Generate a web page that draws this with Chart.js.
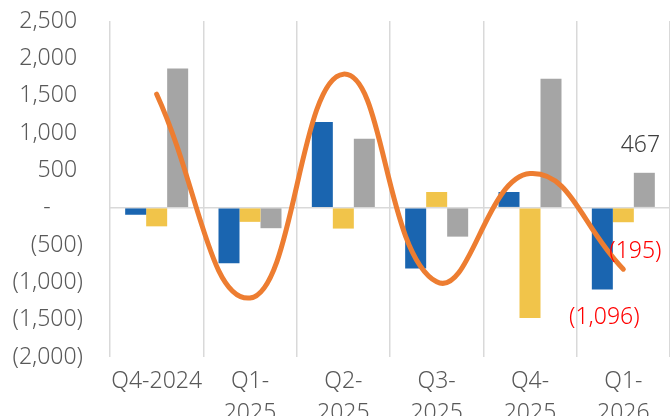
<!DOCTYPE html>
<html>
<head>
<meta charset="utf-8">
<script src="https://cdn.jsdelivr.net/npm/chart.js@4/dist/chart.umd.min.js"></script>
<style>
html,body{margin:0;padding:0;background:#fff;}
#wrap{width:670px;height:416px;position:relative;}
</style>
</head>
<body>
<div id="wrap"><canvas id="c"></canvas></div>
<script>
const categories = ['Q4-2024', ['Q1-', '2025'], ['Q2-', '2025'], ['Q3-', '2025'], ['Q4-', '2025'], ['Q1-', '2026']];
const seriesBlue = [-95, -745, 1146, -815, 210, -1096];
const seriesYellow = [-250, -190, -280, 210, -1479, -195];
const seriesGray = [1865, -275, 922, -388, 1725, 467];
const seriesTotal = [1520, -1210, 1788, -993, 456, -824];
const yMin = -2000, yMax = 2500, yStep = 500;

function fmt(v) {
  if (v === 0) return '-\u2007\u2007 ';
  const s = Math.abs(v).toLocaleString('en-US');
  return v < 0 ? '(' + s + ')' : s + ' ';
}

const FONT = '"Noto Sans", "DejaVu Sans", sans-serif';

const labelPlugin = {
  id: 'lastLabels',
  afterDatasetsDraw(chart) {
    const ctx = chart.ctx;
    const last = categories.length - 1;
    ctx.save();
    ctx.font = '300 23px ' + FONT;
    ctx.textAlign = 'center';
    ctx.textBaseline = 'middle';
    const g = chart.getDatasetMeta(2).data[last];
    ctx.fillStyle = '#404040';
    ctx.fillText(fmt(seriesGray[last]).trim(), g.x - 4, g.y - 27);
    const yv = chart.getDatasetMeta(1).data[last];
    ctx.fillStyle = '#FF0000';
    ctx.fillText(fmt(seriesYellow[last]), yv.x + 12, yv.y + 29);
    const b = chart.getDatasetMeta(0).data[last];
    ctx.fillText(fmt(seriesBlue[last]), b.x + 2, b.y + 28);
    ctx.restore();
  }
};

new Chart(document.getElementById('c'), {
  type: 'bar',
  data: {
    labels: categories,
    datasets: [
      { type: 'bar', data: seriesBlue, backgroundColor: '#1A65B0', order: 1, barPercentage: 1, categoryPercentage: 0.675 },
      { type: 'bar', data: seriesYellow, backgroundColor: '#F1C44A', order: 1, barPercentage: 1, categoryPercentage: 0.675 },
      { type: 'bar', data: seriesGray, backgroundColor: '#A5A5A5', order: 1, barPercentage: 1, categoryPercentage: 0.675 },
      { type: 'line', data: seriesTotal, borderColor: '#ED7D31', borderWidth: 5, tension: 0.45,
        pointRadius: 0, pointHoverRadius: 0, borderCapStyle: 'round', borderJoinStyle: 'round', fill: false, order: 0 }
    ]
  },
  options: {
    responsive: true,
    maintainAspectRatio: false,
    animation: false,
    events: [],
    layout: { padding: { top: 21, right: 0, left: 0, bottom: 0 } },
    plugins: { legend: { display: false }, tooltip: { enabled: false } },
    scales: {
      x: {
        offset: true,
        grid: { offset: true, color: '#D9D9D9', lineWidth: 1.5, drawTicks: false },
        border: { display: false },
        ticks: { color: '#595959', font: { family: FONT, size: 23, weight: '300', lineHeight: 1.4 }, padding: 8, maxRotation: 0, autoSkip: false },
        afterFit(s) { s.height = 59; }
      },
      y: {
        min: yMin, max: yMax,
        ticks: { stepSize: yStep, color: '#595959', font: { family: FONT, size: 23, weight: '300' }, padding: 27, callback: (v) => fmt(v) },
        grid: { drawTicks: false, tickLength: 0, lineWidth: 1.5, color: (c) => (c.tick && c.tick.value === 0 ? '#D9D9D9' : 'rgba(0,0,0,0)') },
        border: { display: false },
        afterFit(s) { s.width = 110; s.paddingTop = 0; s.paddingBottom = 0; }
      }
    }
  },
  plugins: [labelPlugin]
});
</script>
</body>
</html>
